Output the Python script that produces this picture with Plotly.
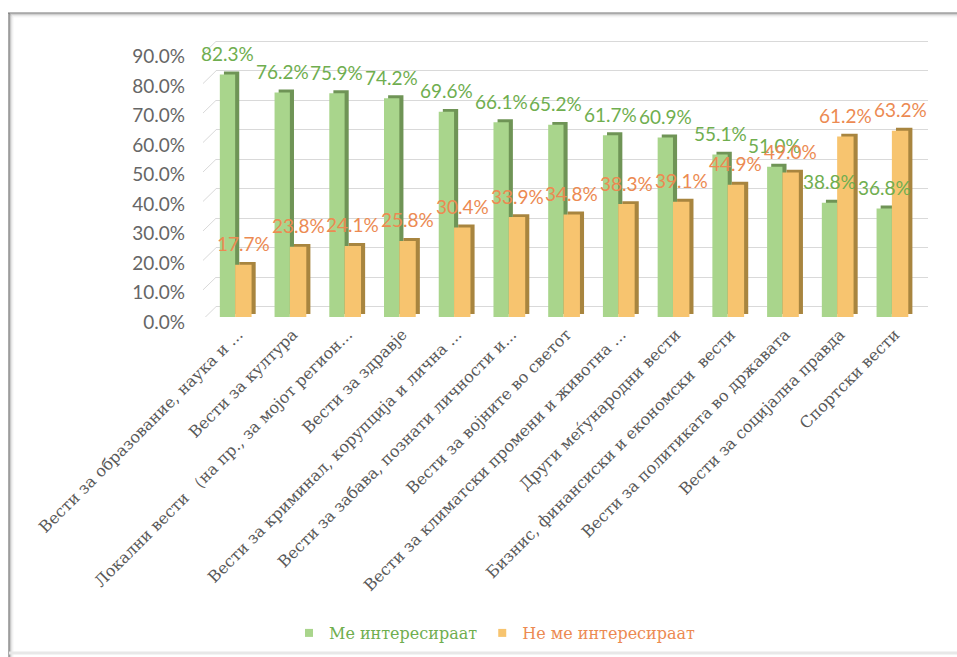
import plotly.graph_objects as go

categories = [
    "Вести за образование, наука и ...",
    "Вести за култура",
    "Локални вести （на пр., за мојот регион...",
    "Вести за здравје",
    "Вести за криминал, корупција и лична ...",
    "Вести за забава, познати личности и...",
    "Вести за војните во светот",
    "Вести за климатски промени и животна ...",
    "Други меѓународни вести",
    "Бизнис, финансиски и економски  вести",
    "Вести за политиката во државата",
    "Вести за социјална правда",
    "Спортски вести",
]
interested = [82.3, 76.2, 75.9, 74.2, 69.6, 66.1, 65.2, 61.7, 60.9, 55.1, 51.0, 38.8, 36.8]
not_interested = [17.7, 23.8, 24.1, 25.8, 30.4, 33.9, 34.8, 38.3, 39.1, 44.9, 49.0, 61.2, 63.2]
series_names = ["Ме интересираат", "Не ме интересираат"]
y_ticks = [0, 10, 20, 30, 40, 50, 60, 70, 80, 90]

W, H = 957, 657
L, R, T, B = 216, 29, 37, 340
PW, PH = W - L - R, H - T - B

def px(x):
    return (x - L) / PW

def py(y):
    return 1 - (y - T) / PH

GREEN = "#a9d58c"
GREEN_D = "#6f9456"
ORANGE = "#f7c46f"
ORANGE_D = "#a8853f"
GREEN_T = "#6fae4f"
ORANGE_T = "#ec8a52"

xs = list(range(len(categories)))
wg, wo = 0.28, 0.30
dx, depth = 0.075, 1.0

fig = go.Figure()
fig.add_trace(go.Bar(x=xs, y=interested, base=depth, offset=-wg + dx, width=wg,
                     marker=dict(color=GREEN_D, line=dict(width=0)), showlegend=False, hoverinfo="skip"))
fig.add_trace(go.Bar(x=xs, y=interested, offset=-wg, width=wg, showlegend=False,
                     marker=dict(color=GREEN, line=dict(width=0))))
fig.add_trace(go.Bar(x=xs, y=not_interested, base=depth, offset=dx, width=wo,
                     marker=dict(color=ORANGE_D, line=dict(width=0)), showlegend=False, hoverinfo="skip"))
fig.add_trace(go.Bar(x=xs, y=not_interested, offset=0, width=wo, showlegend=False,
                     marker=dict(color=ORANGE, line=dict(width=0))))
# legend entries with small square keys
fig.add_trace(go.Scatter(x=[None], y=[None], mode="markers", name=f"<span style='color:{GREEN_T}'>{series_names[0]}</span>",
                         marker=dict(symbol="square", size=8, color=GREEN)))
fig.add_trace(go.Scatter(x=[None], y=[None], mode="markers", name=f"<span style='color:{ORANGE_T}'>{series_names[1]}</span>",
                         marker=dict(symbol="square", size=8, color=ORANGE)))
# invisible trace on y2 to carry the back-wall gridlines
fig.add_trace(go.Scatter(x=[xs[0]], y=[0], yaxis="y2", mode="markers", marker=dict(opacity=0),
                         showlegend=False, hoverinfo="skip"))

annotations = []
for i in xs:
    annotations.append(dict(x=i - wg / 2, y=interested[i], xref="x", yref="y", text=f"{interested[i]:.1f}%",
                            showarrow=False, yshift=21, yanchor="middle",
                            font=dict(family="Lato", size=19, color=GREEN_T)))
    annotations.append(dict(x=i + wo / 2, y=not_interested[i], xref="x", yref="y", text=f"{not_interested[i]:.1f}%",
                            showarrow=False, yshift=21, yanchor="middle",
                            font=dict(family="Lato", size=19, color=ORANGE_T)))

shapes = []
for v in y_ticks:
    shapes.append(dict(type="line", xref="paper", yref="y", x0=px(203), x1=px(216), y0=v - 0.8, y1=v + 3.5,
                       line=dict(color="#d9d9d9", width=1), layer="below"))
for k, (c, op) in enumerate([("#666666", 0.9), ("#888888", 0.6), ("#aaaaaa", 0.4), ("#cccccc", 0.3), ("#e6e6e6", 0.3)]):
    shapes.append(dict(type="line", xref="paper", yref="paper", x0=px(8 + k), x1=px(957), y0=py(13 + k), y1=py(13 + k),
                       line=dict(color=c, width=1.2), opacity=op, layer="above"))
    shapes.append(dict(type="line", xref="paper", yref="paper", x0=px(9 + k), x1=px(9 + k), y0=py(13 + k), y1=py(657),
                       line=dict(color=c, width=1.2), opacity=op, layer="above"))
shapes.append(dict(type="line", xref="paper", yref="paper", x0=px(9), x1=px(957), y0=py(653), y1=py(653),
                   line=dict(color="#e8e8e8", width=3), layer="above"))

fig.update_layout(
    width=W, height=H,
    margin=dict(l=L, r=R, t=T, b=B, autoexpand=False),
    paper_bgcolor="white", plot_bgcolor="white",
    barmode="overlay",
    xaxis=dict(range=[-0.35, 12.66], tickmode="array", tickvals=xs, ticktext=categories,
               tickangle=-45, showgrid=False, zeroline=False, showline=False, ticks="",
               ticklabelstandoff=4, ticklabelshift=3,
               tickfont=dict(family="DejaVu Serif", size=16, color="#595959")),
    yaxis=dict(range=[0, 95], tickmode="array", tickvals=y_ticks, ticktext=[f"{v:.1f}%" for v in y_ticks],
               showgrid=False, zeroline=False, showline=False, ticks="", ticklabelstandoff=30,
               ticklabelshift=5,
               tickfont=dict(family="Lato", size=19, color="#666666")),
    yaxis2=dict(range=[-3.5, 91.5], overlaying="y", side="left", tickmode="array", tickvals=y_ticks,
                showticklabels=False, showgrid=True, gridcolor="#d9d9d9", gridwidth=1,
                zeroline=False, showline=False, ticks=""),
    legend=dict(orientation="h", x=px(495), y=py(633), xanchor="center", yanchor="middle",
                font=dict(family="DejaVu Serif", size=16), itemwidth=30, bgcolor="rgba(0,0,0,0)"),
    annotations=annotations,
    shapes=shapes,
    hovermode=False,
)
fig.write_html("out.html", config={"displayModeBar": False},
               post_script="document.body.style.margin='0';document.body.style.overflow='hidden';")
